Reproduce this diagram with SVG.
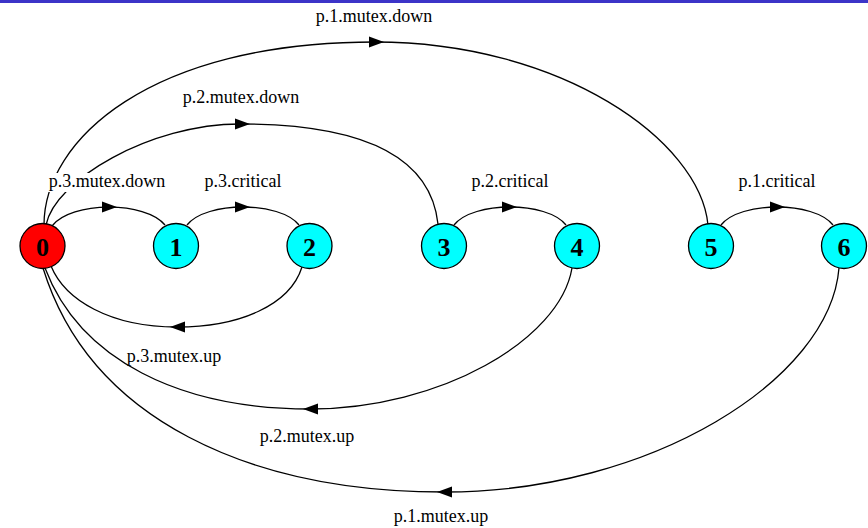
<svg xmlns="http://www.w3.org/2000/svg" width="868" height="528" viewBox="0 0 868 528">
<style>
.edge{fill:none;stroke:#000;stroke-width:1.3}
.arr{fill:#000;stroke:none}
.node circle{stroke:#000;stroke-width:1.3}
.nl{font-family:"Liberation Serif","Times New Roman",serif;font-size:26px;font-weight:bold;text-anchor:middle;fill:#000}
.el{font-family:"Liberation Serif","Times New Roman",serif;font-size:18px;text-anchor:middle;fill:#000}
</style>
<rect x="0" y="0" width="868" height="528" fill="#fff"/>
<rect x="0" y="0" width="868" height="3" fill="#3c34c8"/>
<g id="connectors">
  <path class="edge" d="M46,225 C55,180 150,124 240,124 C350,124 430,150 438,224"/>
  <polygon class="arr" points="235,118.5 250,124 235,129.5"/>
  <text class="el" x="241" y="103">p.2.mutex.down</text>

  <path class="edge" d="M44,225 C44,140 150,42 375,42 C560,42 700,140 708,225"/>
  <polygon class="arr" points="369,36.5 384,42 369,47.5"/>
  <text class="el" x="374" y="22">p.1.mutex.down</text>

  <path class="edge" d="M52,226 C71,201 146,201 165,225"/>
  <polygon class="arr" points="102,201.5 117,207 102,212.5"/>
  <rect x="48" y="173" width="118" height="19" fill="#fff"/>
  <text class="el" x="107" y="187">p.3.mutex.down</text>

  <path class="edge" d="M187,225 C206,201 280,201 299,225"/>
  <polygon class="arr" points="235,201.5 250,207 235,212.5"/>
  <text class="el" x="243" y="187">p.3.critical</text>

  <path class="edge" d="M454,225 C473,201 547,201 566,225"/>
  <polygon class="arr" points="502,201.5 517,207 502,212.5"/>
  <text class="el" x="510" y="187">p.2.critical</text>

  <path class="edge" d="M721,225 C740,201 814,201 833,225"/>
  <polygon class="arr" points="770,201.5 785,207 770,212.5"/>
  <text class="el" x="777" y="187">p.1.critical</text>

  <path class="edge" d="M302,267 C290,305 240,327 177,327 C110,327 65,300 51,266"/>
  <polygon class="arr" points="185,321.5 170,327 185,332.5"/>
  <text class="el" x="174" y="362">p.3.mutex.up</text>

  <path class="edge" d="M572,268 C560,340 440,409 310,409 C180,409 80,360 45,268"/>
  <polygon class="arr" points="318,403.5 303,409 318,414.5"/>
  <text class="el" x="307" y="442">p.2.mutex.up</text>

  <path class="edge" d="M839,268 C830,380 650,492 445,492 C250,492 90,420 43,268"/>
  <polygon class="arr" points="452,486.5 437,492 452,497.5"/>
  <text class="el" x="441" y="522">p.1.mutex.up</text>
</g>
<g id="node0" class="node"><circle cx="42.5" cy="246" r="22.5" fill="#ff0000"/><text class="nl" x="42.5" y="256">0</text></g>
<g id="node1" class="node"><circle cx="176" cy="246" r="22.5" fill="#00ffff"/><text class="nl" x="176" y="256">1</text></g>
<g id="node2" class="node"><circle cx="309.5" cy="246" r="22.5" fill="#00ffff"/><text class="nl" x="309.5" y="256">2</text></g>
<g id="node3" class="node"><circle cx="444" cy="246" r="22.5" fill="#00ffff"/><text class="nl" x="444" y="256">3</text></g>
<g id="node4" class="node"><circle cx="577" cy="246" r="22.5" fill="#00ffff"/><text class="nl" x="577" y="256">4</text></g>
<g id="node5" class="node"><circle cx="711" cy="246" r="22.5" fill="#00ffff"/><text class="nl" x="711" y="256">5</text></g>
<g id="node6" class="node"><circle cx="844" cy="246" r="22.5" fill="#00ffff"/><text class="nl" x="844" y="256">6</text></g>
</svg>
